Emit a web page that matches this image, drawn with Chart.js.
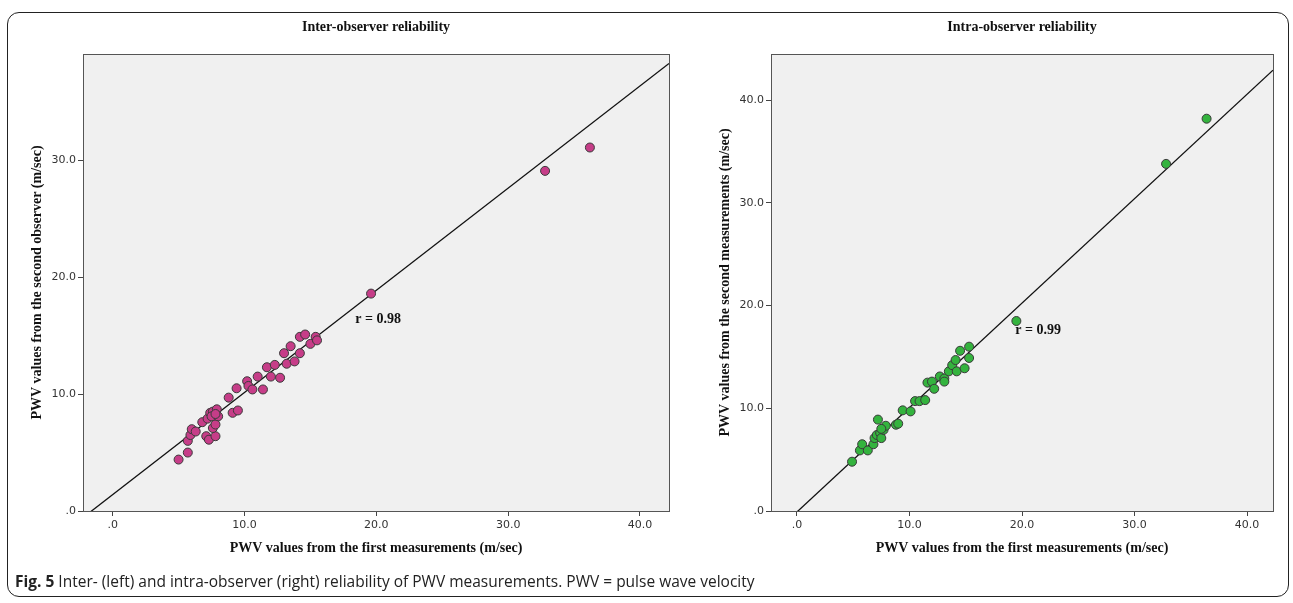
<!DOCTYPE html>
<html>
<head>
<meta charset="utf-8">
<script src="https://cdn.jsdelivr.net/npm/chart.js@4.4.1/dist/chart.umd.min.js"></script>
<style>
    body { margin: 0; background: #fff; width: 1293px; height: 603px; overflow: hidden; position: relative; }
    #frame { position: absolute; left: 7px; top: 12px; width: 1282px; height: 585px; border: 1.5px solid #222; border-radius: 12px; box-sizing: border-box; }
    #leftChart { position: absolute; left: 0; top: 0; }
    #rightChart { position: absolute; left: 700px; top: 0; }
    #caption { position: absolute; left: 15px; top: 570px; font-family: 'Open Sans', sans-serif; font-size: 15.5px; color: #222; white-space: nowrap; }
</style>
</head>
<body>
<div id="frame"></div>
<canvas id="leftChart" width="700" height="603"></canvas>
<canvas id="rightChart" width="593" height="603"></canvas>
<div id="caption"><b>Fig. 5</b> Inter- (left) and intra-observer (right) reliability of PWV measurements. PWV = pulse wave velocity</div>

<script>
// Inter-observer: first measurement (x) vs second observer (y), m/sec
const interFirst = [5.0, 5.7, 5.7, 5.9, 6.0, 6.3, 7.1, 7.3, 7.8, 7.6, 7.8, 6.8, 7.2, 7.4, 7.6, 7.9, 7.5, 8.0, 7.8,
    8.8, 9.1, 9.5, 9.4, 10.2, 10.3, 10.6, 11.0, 11.4, 11.7, 12.3, 12.0, 12.7, 13.0, 13.2, 13.5, 13.8, 14.2, 14.2,
    14.6, 15.0, 15.4, 15.5, 19.6, 32.8, 36.2];
const interSecond = [4.4, 5.0, 6.0, 6.5, 7.0, 6.8, 6.4, 6.1, 6.4, 7.1, 7.4, 7.6, 7.9, 8.4, 8.5, 8.7, 8.1, 8.1, 8.3,
    9.7, 8.4, 8.6, 10.5, 11.1, 10.7, 10.4, 11.5, 10.4, 12.3, 12.5, 11.5, 11.4, 13.5, 12.6, 14.1, 12.8, 13.5, 14.9,
    15.1, 14.3, 14.9, 14.6, 18.6, 29.1, 31.1];

// Intra-observer: first vs second measurements, m/sec
const intraFirst = [4.9, 5.6, 5.8, 6.3, 6.8, 6.9, 7.2, 7.1, 7.4, 7.5, 7.7, 7.9, 7.5, 8.8, 9.0, 9.4, 10.1, 10.5,
    10.9, 11.4, 11.6, 12.0, 12.2, 12.7, 13.1, 13.1, 13.5, 13.8, 14.2, 14.1, 14.5, 14.9, 15.3, 15.3, 19.5, 32.8, 36.4];
const intraSecond = [4.8, 5.9, 6.5, 5.9, 6.5, 7.1, 8.9, 7.4, 7.6, 7.1, 7.9, 8.3, 8.0, 8.4, 8.5, 9.8, 9.7, 10.7,
    10.7, 10.8, 12.5, 12.6, 11.9, 13.1, 12.9, 12.6, 13.6, 14.2, 13.6, 14.7, 15.6, 13.9, 16.0, 14.9, 18.5, 33.8, 38.2];

// Fit lines (slope, intercept) and correlation labels
const interFit = [0.874, 1.4];
const intraFit = [1.017, -0.1];
const interR = 'r = 0.98';
const intraR = 'r = 0.99';

const tickValues = [0, 10, 20, 30, 40];

let interChart = null;
let intraChart = null;

function toPoints(xs, ys) {
    return xs.map((x, i) => ({ x: x, y: ys[i] }));
}

function spssLabel(v) {
    return v === 0 ? '.0' : v.toFixed(1);
}

// Grey plot area, box border, title and r label
const panelPlugin = {
    id: 'panel',
    beforeDraw(chart) {
        const a = chart.chartArea;
        const c = chart.ctx;
        c.save();
        c.fillStyle = '#f0f0f0';
        c.fillRect(a.left, a.top, a.right - a.left, a.bottom - a.top);
        c.restore();
    },
    afterDraw(chart) {
        const a = chart.chartArea;
        const c = chart.ctx;
        const o = chart.options.plugins.panel;
        c.save();
        c.strokeStyle = '#555';
        c.lineWidth = 1;
        c.strokeRect(a.left + 0.5, a.top + 0.5, a.right - a.left, a.bottom - a.top);
        c.fillStyle = '#111';
        c.font = 'bold 14px "Liberation Serif", serif';
        c.textAlign = 'center';
        c.textBaseline = 'middle';
        c.fillText(o.title, (a.left + a.right) / 2, 27);
        c.textAlign = 'left';
        c.fillText(o.label, chart.scales.x.getPixelForValue(o.labelAt[0]), chart.scales.y.getPixelForValue(o.labelAt[1]));
        c.restore();
    }
};

function buildChart(canvasId, xs, ys, fit, color, opts) {
    const ctx = document.getElementById(canvasId);
    const lineData = [opts.xMin, opts.xMax].map(x => ({ x: x, y: fit[0] * x + fit[1] }));
    const tickFont = { family: '"DejaVu Sans", sans-serif', size: 11 };
    const titleFont = { family: '"Liberation Serif", serif', size: 14, weight: 'bold' };

    return new Chart(ctx, {
        type: 'scatter',
        data: {
            datasets: [
                {
                    data: toPoints(xs, ys),
                    backgroundColor: color,
                    borderColor: '#3a3a3a',
                    borderWidth: 1,
                    pointRadius: 4.5
                },
                {
                    type: 'line',
                    data: lineData,
                    borderColor: '#111',
                    borderWidth: 1.3,
                    pointRadius: 0,
                    fill: false
                }
            ]
        },
        plugins: [panelPlugin],
        options: {
            responsive: false,
            animation: false,
            layout: { padding: { top: 54, left: 0, right: opts.padRight, bottom: 0 } },
            plugins: {
                legend: { display: false },
                tooltip: { enabled: false },
                panel: { title: opts.title, label: opts.label, labelAt: opts.labelAt }
            },
            scales: {
                x: {
                    type: 'linear',
                    min: opts.xMin,
                    max: opts.xMax,
                    afterFit: s => { s.height = 92; },
                    afterBuildTicks: s => { s.ticks = tickValues.map(v => ({ value: v })); },
                    grid: { drawOnChartArea: false, tickLength: 5, color: '#444' },
                    border: { color: '#555' },
                    ticks: { color: '#333', font: tickFont, padding: 3, maxRotation: 0, callback: spssLabel },
                    title: { display: true, text: 'PWV values from the first measurements (m/sec)', color: '#111',
                        font: titleFont, padding: { top: 0, bottom: 46 } }
                },
                y: {
                    type: 'linear',
                    min: 0,
                    max: opts.yMax,
                    afterFit: s => { s.width = opts.yWidth; },
                    afterBuildTicks: s => { s.ticks = tickValues.filter(v => v <= opts.yMax).map(v => ({ value: v })); },
                    grid: { drawOnChartArea: false, tickLength: 5, color: '#444' },
                    border: { color: '#555' },
                    ticks: { color: '#333', font: tickFont, padding: 2, callback: spssLabel },
                    title: { display: true, text: opts.yTitle, color: '#111', font: titleFont,
                        padding: { top: opts.yTitlePad, bottom: 0 } }
                }
            }
        }
    });
}

function initializeCharts() {
    interChart = buildChart('leftChart', interFirst, interSecond, interFit, '#c63d88', {
        title: 'Inter-observer reliability',
        yTitle: 'PWV values from the second observer (m/sec)',
        label: interR, labelAt: [18.4, 16.4],
        xMin: -2.25, xMax: 42.2, yMax: 39.1,
        yWidth: 83, yTitlePad: 29, padRight: 31
    });
    intraChart = buildChart('rightChart', intraFirst, intraSecond, intraFit, '#34b33e', {
        title: 'Intra-observer reliability',
        yTitle: 'PWV values from the second measurements (m/sec)',
        label: intraR, labelAt: [19.4, 17.6],
        xMin: -2.3, xMax: 42.3, yMax: 44.5,
        yWidth: 71, yTitlePad: 17, padRight: 20
    });
}

initializeCharts();
</script>
</body>
</html>
